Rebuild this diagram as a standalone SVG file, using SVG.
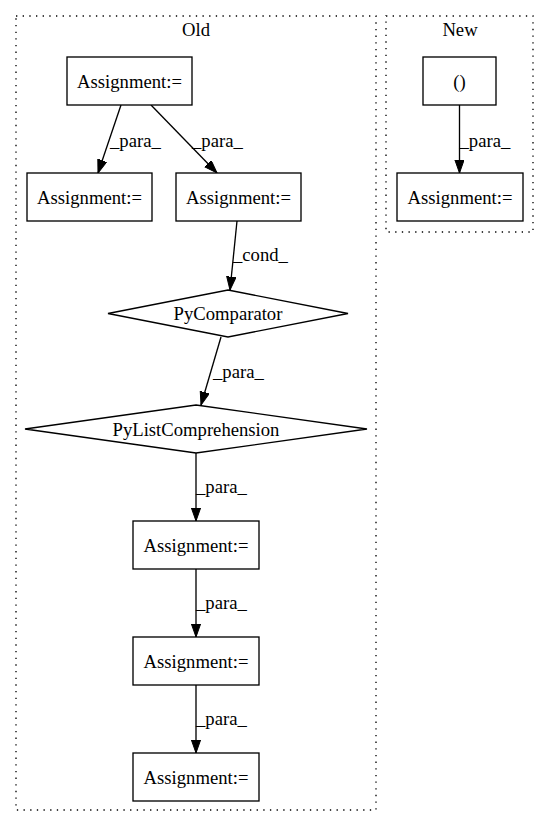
<svg xmlns="http://www.w3.org/2000/svg" width="549" height="828" viewBox="0 0 549 828">
<style>
text{font-family:"Liberation Serif","Times New Roman",serif;font-size:18.67px;fill:#000}
.c{text-anchor:middle}
.n{fill:#fff;stroke:#000;stroke-width:1.33}
.cl{fill:none;stroke:#000;stroke-width:1.33;stroke-dasharray:1.33,5.33}
.e{fill:none;stroke:#000;stroke-width:1.33}
.lbl{text-anchor:start}
</style>
<defs>
<marker id="ah" markerUnits="userSpaceOnUse" markerWidth="14" markerHeight="10" refX="13.3" refY="4.7" orient="auto">
<path d="M0,0 L13.3,4.7 L0,9.4 Z" fill="#000" stroke="#000" stroke-width="1"/>
</marker>
</defs>
<rect width="549" height="828" fill="#fff"/>
<g id="cluster_old">
<rect class="cl" x="16" y="16" width="360" height="794"/>
<text class="c" x="196" y="36">Old</text>
</g>
<g id="cluster_new">
<rect class="cl" x="386" y="16" width="147" height="216"/>
<text class="c" x="460" y="36">New</text>
</g>
<g id="edges">
<path class="e" d="M121,105 L98,173" marker-end="url(#ah)"/>
<text class="lbl" x="110" y="147">_para_</text>
<path class="e" d="M151,105 L217,173" marker-end="url(#ah)"/>
<text class="lbl" x="192" y="147">_para_</text>
<path class="e" d="M237,221 L230,290" marker-end="url(#ah)"/>
<text class="lbl" x="233" y="261">_cond_</text>
<path class="e" d="M221,337 L201,405" marker-end="url(#ah)"/>
<text class="lbl" x="213" y="378">_para_</text>
<path class="e" d="M196,453 L196,521" marker-end="url(#ah)"/>
<text class="lbl" x="196" y="493">_para_</text>
<path class="e" d="M196,569 L196,637" marker-end="url(#ah)"/>
<text class="lbl" x="196" y="609">_para_</text>
<path class="e" d="M196,685 L196,753" marker-end="url(#ah)"/>
<text class="lbl" x="196" y="725">_para_</text>
<path class="e" d="M459.5,105 L459.5,173" marker-end="url(#ah)"/>
<text class="lbl" x="459.5" y="147">_para_</text>
</g>
<g id="n_assign_top">
<rect class="n" x="67" y="57" width="125" height="48"/>
<text class="c" x="129.5" y="87.5">Assignment:=</text>
</g>
<g id="n_assign_left">
<rect class="n" x="27" y="173" width="125" height="48"/>
<text class="c" x="89.5" y="203.5">Assignment:=</text>
</g>
<g id="n_assign_right">
<rect class="n" x="176" y="173" width="125" height="48"/>
<text class="c" x="238.5" y="203.5">Assignment:=</text>
</g>
<g id="n_pycomparator">
<polygon class="n" points="228,290 348,313.5 228,337 108,313.5"/>
<text class="c" x="228" y="320">PyComparator</text>
</g>
<g id="n_pylistcomp">
<polygon class="n" points="196,405 367,429 196,453 25,429"/>
<text class="c" x="196" y="435.5">PyListComprehension</text>
</g>
<g id="n_assign_4">
<rect class="n" x="133" y="521" width="126" height="48"/>
<text class="c" x="196" y="551.5">Assignment:=</text>
</g>
<g id="n_assign_5">
<rect class="n" x="133" y="637" width="126" height="48"/>
<text class="c" x="196" y="667.5">Assignment:=</text>
</g>
<g id="n_assign_6">
<rect class="n" x="133" y="753" width="126" height="48"/>
<text class="c" x="196" y="783.5">Assignment:=</text>
</g>
<g id="n_paren">
<rect class="n" x="423" y="57" width="73" height="48"/>
<text class="c" x="459.5" y="87.5">()</text>
</g>
<g id="n_assign_new">
<rect class="n" x="397" y="173" width="126" height="48"/>
<text class="c" x="460" y="203.5">Assignment:=</text>
</g>
</svg>
